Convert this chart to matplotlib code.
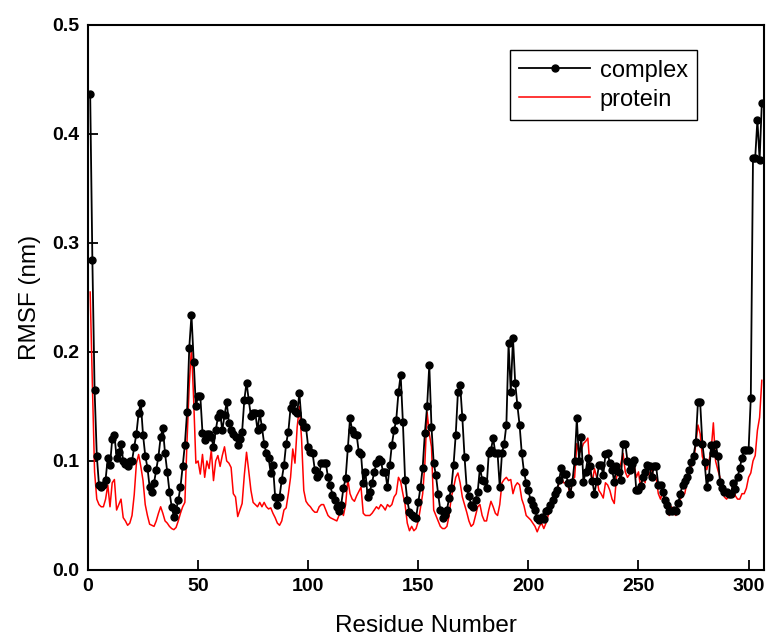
import matplotlib
matplotlib.use("Agg")
import matplotlib.pyplot as plt
import numpy as np

plt.rcParams['font.family'] = ['Liberation Sans', 'DejaVu Sans']

residues = list(range(1, 307))

complex_rmsf = [
    0.437, 0.284, 0.165, 0.105, 0.078, 0.076, 0.078, 0.083, 0.103, 0.096,
    0.120, 0.124, 0.103, 0.108, 0.116, 0.100, 0.097, 0.095, 0.100, 0.100,
    0.113, 0.125, 0.144, 0.153, 0.124, 0.105, 0.094, 0.076, 0.072, 0.080,
    0.092, 0.104, 0.122, 0.130, 0.107, 0.090, 0.072, 0.058, 0.049, 0.055,
    0.064, 0.076, 0.095, 0.115, 0.145, 0.204, 0.234, 0.191, 0.150, 0.160,
    0.160, 0.126, 0.119, 0.125, 0.125, 0.122, 0.113, 0.128, 0.140, 0.144,
    0.128, 0.142, 0.154, 0.135, 0.128, 0.125, 0.122, 0.115, 0.120, 0.127,
    0.156, 0.172, 0.156, 0.141, 0.144, 0.144, 0.128, 0.144, 0.131, 0.116,
    0.107, 0.103, 0.089, 0.096, 0.067, 0.060, 0.067, 0.083, 0.096, 0.116,
    0.127, 0.149, 0.153, 0.146, 0.144, 0.162, 0.136, 0.131, 0.131, 0.113,
    0.108, 0.107, 0.092, 0.085, 0.088, 0.098, 0.098, 0.098, 0.085, 0.078,
    0.069, 0.064, 0.058, 0.054, 0.060, 0.075, 0.084, 0.112, 0.139, 0.128,
    0.125, 0.124, 0.108, 0.106, 0.080, 0.090, 0.067, 0.072, 0.080, 0.090,
    0.098, 0.102, 0.100, 0.090, 0.090, 0.076, 0.096, 0.115, 0.128, 0.138,
    0.163, 0.179, 0.136, 0.083, 0.064, 0.053, 0.050, 0.049, 0.048, 0.062,
    0.076, 0.094, 0.126, 0.150, 0.188, 0.131, 0.098, 0.087, 0.070, 0.055,
    0.048, 0.050, 0.055, 0.066, 0.075, 0.096, 0.124, 0.163, 0.170, 0.140,
    0.104, 0.075, 0.068, 0.060, 0.058, 0.064, 0.072, 0.094, 0.083, 0.082,
    0.075, 0.107, 0.110, 0.121, 0.107, 0.107, 0.076, 0.107, 0.116, 0.133,
    0.208, 0.163, 0.213, 0.172, 0.151, 0.133, 0.107, 0.090, 0.080, 0.073,
    0.064, 0.060, 0.055, 0.048, 0.046, 0.049, 0.047, 0.054, 0.055, 0.060,
    0.064, 0.070, 0.073, 0.083, 0.094, 0.088, 0.088, 0.080, 0.070, 0.081,
    0.100, 0.139, 0.100, 0.122, 0.081, 0.090, 0.103, 0.095, 0.082, 0.070,
    0.082, 0.096, 0.096, 0.087, 0.106, 0.107, 0.098, 0.092, 0.081, 0.095,
    0.090, 0.083, 0.116, 0.116, 0.100, 0.092, 0.097, 0.101, 0.073, 0.073,
    0.077, 0.085, 0.090, 0.096, 0.095, 0.085, 0.095, 0.095, 0.078, 0.078,
    0.072, 0.064, 0.060, 0.054, 0.054, 0.055, 0.054, 0.061, 0.070, 0.078,
    0.082, 0.085, 0.092, 0.099, 0.105, 0.117, 0.154, 0.154, 0.116, 0.099,
    0.076, 0.085, 0.115, 0.107, 0.116, 0.105, 0.081, 0.075, 0.072, 0.072,
    0.070, 0.070, 0.080, 0.074, 0.085, 0.094, 0.103, 0.110, 0.110, 0.110,
    0.158, 0.378, 0.378, 0.413, 0.376, 0.428,
]

protein_rmsf = [
    0.255, 0.170, 0.090, 0.065, 0.060, 0.058, 0.058, 0.065, 0.078, 0.058,
    0.080, 0.083, 0.055, 0.060, 0.065, 0.048, 0.045, 0.041, 0.043, 0.050,
    0.069, 0.098, 0.106, 0.095, 0.082, 0.060, 0.050, 0.042, 0.041, 0.040,
    0.045, 0.052, 0.058, 0.052, 0.045, 0.043, 0.040, 0.038, 0.037, 0.039,
    0.045, 0.052, 0.058, 0.062, 0.119, 0.170, 0.204, 0.156, 0.098, 0.100,
    0.088, 0.106, 0.085, 0.100, 0.093, 0.110, 0.082, 0.100, 0.105, 0.095,
    0.105, 0.113, 0.100, 0.098, 0.094, 0.070, 0.067, 0.049, 0.055, 0.061,
    0.087, 0.108, 0.091, 0.073, 0.062, 0.060, 0.058, 0.062, 0.058, 0.062,
    0.058, 0.056, 0.057, 0.052, 0.048, 0.043, 0.041, 0.045, 0.055, 0.057,
    0.070, 0.085, 0.111, 0.098, 0.131, 0.150, 0.120, 0.073, 0.063, 0.060,
    0.058, 0.055, 0.053, 0.053, 0.058, 0.060, 0.060, 0.055, 0.050, 0.048,
    0.047, 0.046, 0.045, 0.050, 0.055, 0.050, 0.060, 0.083, 0.070, 0.065,
    0.063, 0.068, 0.072, 0.076, 0.052, 0.050, 0.050, 0.050, 0.052, 0.055,
    0.058, 0.056, 0.060, 0.058, 0.055, 0.060, 0.058, 0.060, 0.067, 0.070,
    0.085, 0.081, 0.070, 0.060, 0.043, 0.036, 0.040, 0.036, 0.038, 0.045,
    0.057, 0.070, 0.098, 0.145, 0.125, 0.113, 0.055, 0.050, 0.045, 0.040,
    0.038, 0.038, 0.040, 0.050, 0.067, 0.075, 0.085, 0.089, 0.080, 0.067,
    0.060, 0.053, 0.045, 0.040, 0.042, 0.050, 0.058, 0.060, 0.050, 0.045,
    0.045, 0.055, 0.063, 0.058, 0.052, 0.050, 0.060, 0.080, 0.083, 0.085,
    0.082, 0.083, 0.070, 0.077, 0.080, 0.078, 0.065, 0.059, 0.050, 0.048,
    0.046, 0.043, 0.040, 0.035, 0.040, 0.043, 0.038, 0.043, 0.050, 0.056,
    0.062, 0.068, 0.073, 0.080, 0.085, 0.080, 0.080, 0.078, 0.067, 0.083,
    0.085, 0.116, 0.107, 0.110, 0.116, 0.118, 0.121, 0.093, 0.080, 0.093,
    0.085, 0.073, 0.070, 0.066, 0.080, 0.078, 0.073, 0.065, 0.061, 0.085,
    0.090, 0.098, 0.107, 0.090, 0.085, 0.088, 0.092, 0.097, 0.085, 0.090,
    0.075, 0.090, 0.080, 0.096, 0.085, 0.095, 0.082, 0.085, 0.070, 0.065,
    0.072, 0.065, 0.055, 0.050, 0.058, 0.052, 0.050, 0.060, 0.065, 0.068,
    0.070, 0.080, 0.088, 0.095, 0.100, 0.115, 0.133, 0.125, 0.104, 0.098,
    0.092, 0.100, 0.110, 0.135, 0.100, 0.092, 0.085, 0.075, 0.067, 0.065,
    0.068, 0.067, 0.080, 0.068, 0.065, 0.065, 0.070, 0.070, 0.075, 0.085,
    0.089, 0.100, 0.105, 0.128, 0.140, 0.174,
]

x_ticks = [0, 50, 100, 150, 200, 250, 300]
y_ticks = [0.0, 0.1, 0.2, 0.3, 0.4, 0.5]

fig = plt.figure(figsize=(7.67, 6.41), dpi=100)
ax = fig.add_axes([0.1147, 0.1108, 0.8814, 0.8502])

ax.plot(residues, complex_rmsf, color='black', lw=1.3, marker='o',
        markersize=5, label='complex', zorder=3)
ax.plot(residues, protein_rmsf, color='#ff0000', lw=1.1, label='protein', zorder=2)

ax.set_xlim(0, 307)
ax.set_ylim(0, 0.5)
ax.set_xticks(x_ticks)
ax.set_yticks(y_ticks)
ax.set_yticklabels([f"{v:.1f}" for v in y_ticks])
ax.tick_params(direction='in', length=7, width=1.3, labelsize=14, pad=6,
               top=False, right=False)
for lab in ax.get_xticklabels() + ax.get_yticklabels():
    lab.set_fontweight('bold')
for s in ax.spines.values():
    s.set_linewidth(1.5)

ax.set_xlabel('Residue Number', fontsize=17.5, labelpad=14)
ax.set_ylabel('RMSF (nm)', fontsize=17.5, labelpad=8)

leg = ax.legend(loc='upper right', bbox_to_anchor=(0.901, 0.954),
                borderaxespad=0, fontsize=17, fancybox=False,
                edgecolor='black', framealpha=1, handlelength=3.0,
                handletextpad=0.4, labelspacing=0.3, borderpad=0.4)
leg.get_frame().set_linewidth(1.0)

fig.savefig('out.png', dpi=100)
